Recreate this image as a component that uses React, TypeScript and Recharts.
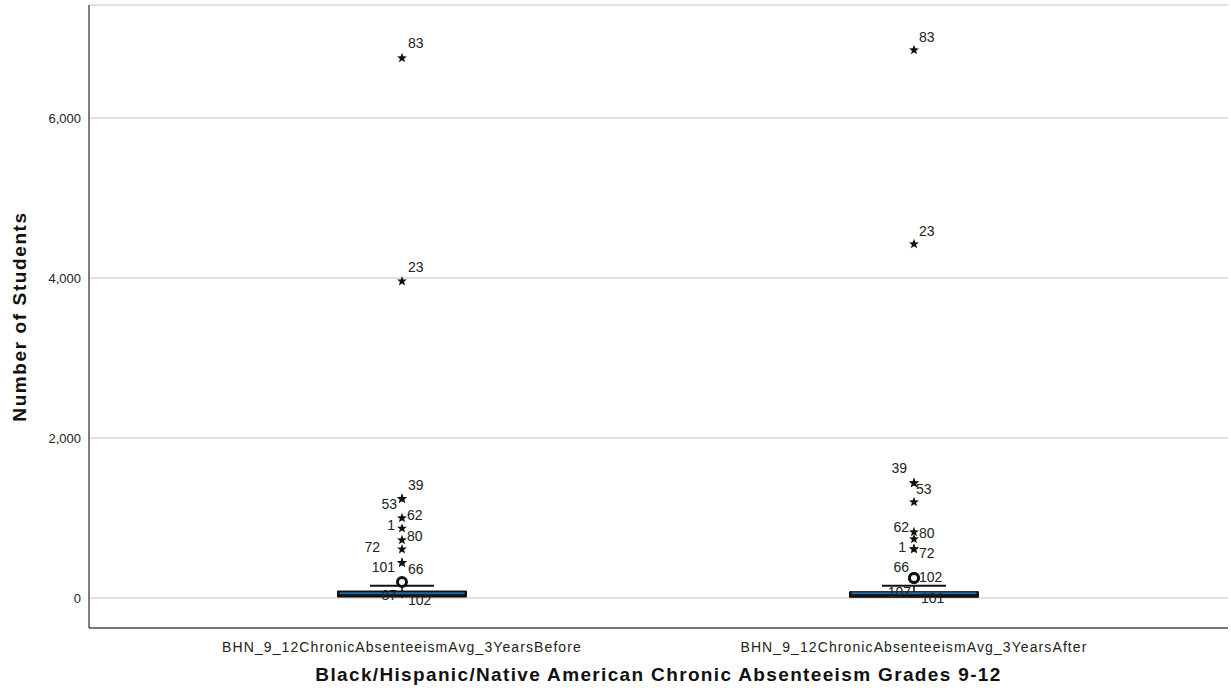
import React from 'react';
import { ComposedChart, Scatter, XAxis, YAxis, CartesianGrid, ReferenceArea, ReferenceLine, Label } from 'recharts';

// categories sit at x = 1 and x = 2 on a numeric axis
const CATEGORIES = ['BHN_9_12ChronicAbsenteeismAvg_3YearsBefore', 'BHN_9_12ChronicAbsenteeismAvg_3YearsAfter'];
const CATEGORY_POS = [1, 2];
const Y_TICKS = [0, 2000, 4000, 6000];

// box stats per category
const WHISKER_LOW = [0, 0];
const Q1 = [12, 9];
const MEDIAN = [59, 59];
const Q3 = [87, 79];
const WHISKER_HIGH = [153, 153];

// outliers (case id, value, marker)
const BEFORE_OUTLIERS = [
  { id: '83', value: 6750, mark: 'star' },
  { id: '23', value: 3960, mark: 'star' },
  { id: '39', value: 1240, mark: 'star' },
  { id: '53', value: 1240, mark: 'star' },
  { id: '62', value: 1000, mark: 'star' },
  { id: '1', value: 870, mark: 'star' },
  { id: '80', value: 725, mark: 'star' },
  { id: '72', value: 610, mark: 'star' },
  { id: '101', value: 440, mark: 'star' },
  { id: '66', value: 440, mark: 'star' },
  { id: '', value: 200, mark: 'circle' },
  { id: '87', value: 20, mark: 'none' },
  { id: '102', value: 20, mark: 'none' },
];

const AFTER_OUTLIERS = [
  { id: '83', value: 6850, mark: 'star' },
  { id: '23', value: 4425, mark: 'star' },
  { id: '39', value: 1437, mark: 'star' },
  { id: '53', value: 1437, mark: 'star' },
  { id: '', value: 1200, mark: 'star' },
  { id: '62', value: 825, mark: 'star' },
  { id: '80', value: 737, mark: 'star' },
  { id: '1', value: 612, mark: 'star' },
  { id: '72', value: 612, mark: 'star' },
  { id: '66', value: 250, mark: 'circle' },
  { id: '102', value: 250, mark: 'circle' },
  { id: '107', value: 20, mark: 'none' },
  { id: '101', value: 20, mark: 'none' },
];

// label offsets from the marker: [dx, dy, anchor]
const LABEL_OFFSETS: Record<string, [number, number, string]> = {
  '1:83': [6, -15, 'start'],
  '1:23': [6, -14, 'start'],
  '1:39': [6, -14, 'start'],
  '1:53': [-5, 5, 'end'],
  '1:62': [5, -3, 'start'],
  '1:1': [-7, -3, 'end'],
  '1:80': [5, -4, 'start'],
  '1:72': [-22, -2, 'end'],
  '1:101': [-7, 4, 'end'],
  '1:66': [6, 6, 'start'],
  '1:87': [-5, -1, 'end'],
  '1:102': [6, 4, 'start'],
  '2:83': [5, -13, 'start'],
  '2:23': [5, -13, 'start'],
  '2:39': [-7, -15, 'end'],
  '2:53': [2, 6, 'start'],
  '2:62': [-5, -5, 'end'],
  '2:80': [5, -6, 'start'],
  '2:1': [-8, -2, 'end'],
  '2:72': [5, 4, 'start'],
  '2:66': [-5, -11, 'end'],
  '2:102': [5, -1, 'start'],
  '2:107': [-3, -4, 'end'],
  '2:101': [7, 2, 'start'],
};

const BOX_HALF = 0.126;
const CAP_HALF = 0.0625;
const FONT = '"Liberation Sans", Arial, sans-serif';

const starPoints = (cx: number, cy: number, r: number) => {
  const pts: string[] = [];
  for (let i = 0; i < 10; i++) {
    const rad = i % 2 === 0 ? r : r * 0.42;
    const a = -Math.PI / 2 + (i * Math.PI) / 5;
    pts.push(`${cx + rad * Math.cos(a)},${cy + rad * Math.sin(a)}`);
  }
  return pts.join(' ');
};

const OutlierShape = (props: any) => {
  const { cx, cy, payload } = props;
  const off = LABEL_OFFSETS[`${payload.x}:${payload.id}`];
  return (
    <g>
      {payload.mark === 'star' && <polygon points={starPoints(cx, cy, 5.2)} fill="#111" />}
      {payload.mark === 'circle' && <circle cx={cx} cy={cy} r={4.5} fill="#fff" stroke="#111" strokeWidth={3} />}
      {off && (
        <text x={cx + off[0]} y={cy + off[1]} dy="0.35em" textAnchor={off[2]} fontSize={14} fill="#222" fontFamily={FONT}>
          {payload.id}
        </text>
      )}
    </g>
  );
};

const CategoryTick = (props: any) => {
  const { x, y, payload } = props;
  const idx = CATEGORY_POS.indexOf(payload.value);
  return (
    <text x={x} y={y + 16} textAnchor="middle" fontSize={14} letterSpacing={1.1} fill="#222" fontFamily={FONT}>
      {CATEGORIES[idx]}
    </text>
  );
};

const YTitle = (props: any) => {
  const { viewBox } = props;
  const cx = viewBox.x + 19;
  const cy = viewBox.y + viewBox.height / 2;
  return (
    <text x={cx} y={cy} transform={`rotate(-90 ${cx} ${cy})`} textAnchor="middle" dy="0.35em" fontSize={19} fontWeight="bold" letterSpacing={1.6} fill="#111" fontFamily={FONT}>
      Number of Students
    </text>
  );
};

const XTitle = (props: any) => {
  const { viewBox } = props;
  return (
    <text x={viewBox.x + viewBox.width / 2} y={viewBox.y + 53} textAnchor="middle" fontSize={19} fontWeight="bold" letterSpacing={1.35} fill="#111" fontFamily={FONT}>
      Black/Hispanic/Native American Chronic Absenteeism Grades 9-12
    </text>
  );
};

export default function App() {
  const before = BEFORE_OUTLIERS.map((d) => ({ ...d, x: CATEGORY_POS[0], y: d.value }));
  const after = AFTER_OUTLIERS.map((d) => ({ ...d, x: CATEGORY_POS[1], y: d.value }));

  return (
    <div style={{ position: 'absolute', left: 0, top: 0, background: '#fff' }}>
      <ComposedChart width={1231} height={692} margin={{ top: 5, right: 3, left: 0, bottom: 0 }}>
        <CartesianGrid vertical={false} stroke="#c4c4c4" />
        <XAxis
          type="number"
          dataKey="x"
          domain={[0.3887, 2.6133]}
          ticks={CATEGORY_POS}
          allowDataOverflow
          tickLine={false}
          axisLine={{ stroke: '#555', strokeWidth: 1.5 }}
          tick={<CategoryTick />}
          height={64}
        >
          <Label content={<XTitle />} />
        </XAxis>
        <YAxis
          type="number"
          dataKey="y"
          domain={[-375, 7412.5]}
          ticks={Y_TICKS}
          allowDataOverflow
          tickLine={false}
          axisLine={{ stroke: '#555', strokeWidth: 1.5 }}
          tick={{ fill: '#222', fontSize: 13, fontFamily: FONT }}
          tickFormatter={(v: number) => v.toLocaleString('en-US')}
          width={89}
        >
          <Label content={<YTitle />} />
        </YAxis>

        {CATEGORY_POS.map((p, i) => (
          <React.Fragment key={p}>
            <ReferenceLine segment={[{ x: p, y: Q3[i] }, { x: p, y: WHISKER_HIGH[i] }]} stroke="#111" strokeWidth={1.5} />
            <ReferenceLine segment={[{ x: p, y: WHISKER_LOW[i] }, { x: p, y: Q1[i] }]} stroke="#111" strokeWidth={1.5} />
            <ReferenceLine segment={[{ x: p - CAP_HALF, y: WHISKER_HIGH[i] }, { x: p + CAP_HALF, y: WHISKER_HIGH[i] }]} stroke="#111" strokeWidth={2} />
            <ReferenceArea x1={p - BOX_HALF} x2={p + BOX_HALF} y1={Q1[i]} y2={Q3[i]} fill="#111" fillOpacity={1} stroke="#111" strokeWidth={1} />
            <ReferenceLine segment={[{ x: p - BOX_HALF + 0.004, y: MEDIAN[i] }, { x: p + BOX_HALF - 0.004, y: MEDIAN[i] }]} stroke="#1f6aa5" strokeWidth={2} />
          </React.Fragment>
        ))}

        <Scatter data={before} shape={<OutlierShape />} isAnimationActive={false} />
        <Scatter data={after} shape={<OutlierShape />} isAnimationActive={false} />
      </ComposedChart>
    </div>
  );
}
